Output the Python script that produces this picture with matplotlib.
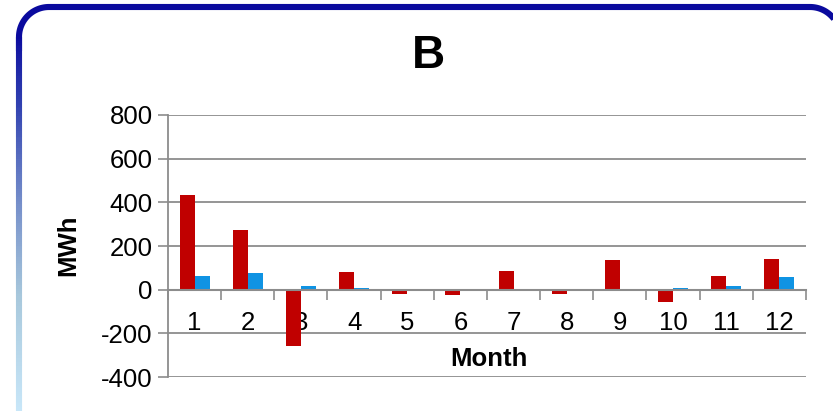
import numpy as np
import matplotlib.pyplot as plt
from matplotlib.lines import Line2D
from matplotlib.collections import LineCollection
from matplotlib.colors import LinearSegmentedColormap

plt.rcParams['font.family'] = ['Liberation Sans', 'DejaVu Sans']
plt.rcParams['axes.unicode_minus'] = False

# monthly energy values (MWh)
months = ['1', '2', '3', '4', '5', '6', '7', '8', '9', '10', '11', '12']
series_a = [432, 272, -258, 82, -18, -26, 87, -22, 135, -57, 64, 142]
series_b = [64, 78, 18, 6, 0, 0, 0, 0, 0, 9, 18, 60]
yticks = [-400, -200, 0, 200, 400, 600, 800]

W, H = 833, 411
fig = plt.figure(figsize=(W / 100, H / 100), dpi=100)

# rounded frame in inches: dark blue across the top, left edge fading
# from dark blue to light blue
xl, xr, yt, r = 0.19, 8.40, 4.04, 0.30
a1 = np.linspace(np.pi, np.pi / 2, 40)
a2 = np.linspace(np.pi / 2, 0, 40)
fx = np.concatenate([[xl], xl + r + r * np.cos(a1), xr - r + r * np.cos(a2), [xr]])
fy = np.concatenate([[3.6], yt - r + r * np.sin(a1), yt - r + r * np.sin(a2), [-0.2]])
fig.add_artist(Line2D(fx, fy, color='#0A0A9E', linewidth=4.4,
                      transform=fig.dpi_scale_trans, solid_capstyle='butt'))

cmap = LinearSegmentedColormap.from_list(
    'edge', ['#0A0A9E', '#3040B0', '#7088C8', '#A8C8DC', '#C8E6F8'])
ys = np.linspace(yt - r, 0, 200)
pts = np.array([[np.full_like(ys, xl), ys]]).T.reshape(-1, 1, 2)
segs = np.concatenate([pts[:-1], pts[1:]], axis=1)
lc = LineCollection(segs, cmap=cmap, linewidths=4.4,
                    transform=fig.dpi_scale_trans)
lc.set_array(np.linspace(0, 1, len(segs)) ** 0.8)
fig.add_artist(lc)

ax = fig.add_axes([168 / W, 1 - 377 / H, (806 - 168) / W, (377 - 115) / H])
ax.set_facecolor('none')

x = np.arange(len(months))
bw = 0.282
ax.bar(x - bw / 2, series_a, bw, color='#C00000', zorder=3)
ax.bar(x + bw / 2, series_b, bw, color='#0F93E3', zorder=3)

ax.set_xlim(-0.5, len(months) - 0.5)
ax.set_ylim(-400, 800)
ax.set_yticks(yticks)
ax.tick_params(axis='y', labelsize=18.5, length=7, color='#8C8C8C', width=1.2, pad=4)
ax.yaxis.grid(True, color='#8C8C8C', linewidth=1.3, zorder=1)

for s in ['top', 'right']:
    ax.spines[s].set_visible(False)
ax.spines['left'].set_color('#8C8C8C')
ax.spines['left'].set_linewidth(1.3)
ax.spines['bottom'].set_position(('data', 0))
ax.spines['bottom'].set_color('#8C8C8C')
ax.spines['bottom'].set_linewidth(1.5)
ax.spines['bottom'].set_zorder(4)

ax.set_xticks(x)
ax.set_xticklabels(months)
ax.set_xticks(np.arange(-0.5, len(months)), minor=True)
ax.tick_params(axis='x', which='major', length=0, labelsize=18.5, pad=15)
ax.tick_params(axis='x', which='minor', length=7, color='#8C8C8C', width=1.2)

fig.text(489 / W, 1 - 359 / H, 'Month', fontsize=18.5, fontweight='bold',
         ha='center', va='center')
fig.text(68 / W, 1 - 245 / H, 'MWh', fontsize=18.5, fontweight='bold',
         rotation=90, ha='center', va='center')
fig.text(428 / W, 1 - 56 / H, 'B', fontsize=33, fontweight='bold',
         ha='center', va='center')

fig.savefig('out.png', dpi=100)
